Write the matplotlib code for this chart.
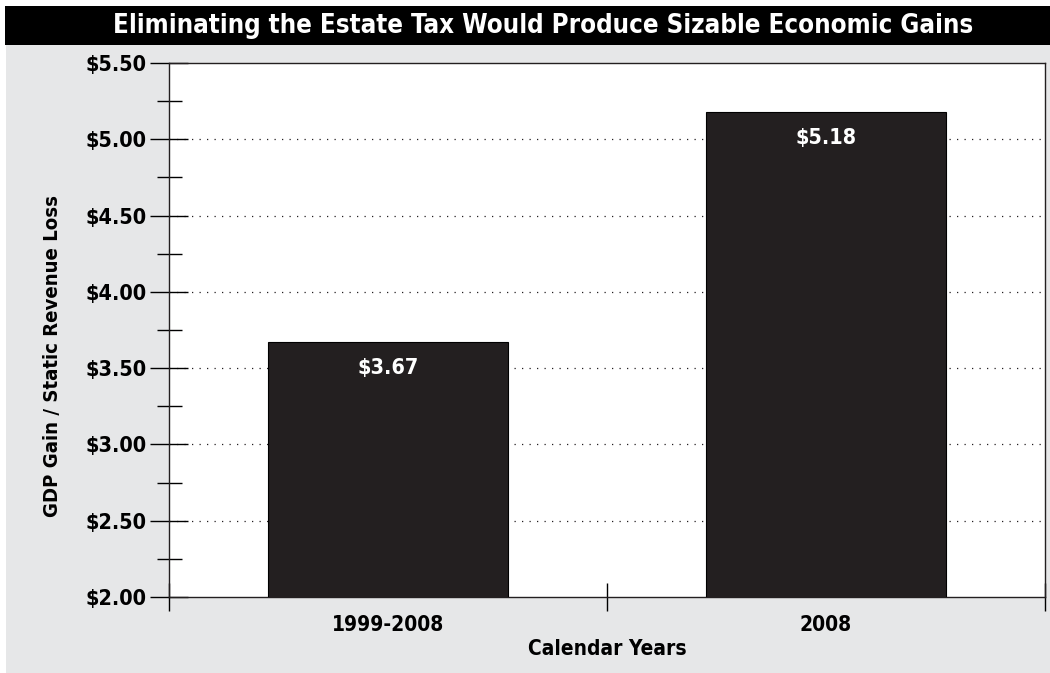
import matplotlib
matplotlib.use("Agg")
import matplotlib.pyplot as plt
from matplotlib import font_manager as fm
from matplotlib.patches import Rectangle
from matplotlib.ticker import MultipleLocator, FixedLocator, NullFormatter

periods = ["1999-2008", "2008"]
ratios = [3.67, 5.18]
value_labels = ["$3.67", "$5.18"]
y_ticks = [2.0, 2.5, 3.0, 3.5, 4.0, 4.5, 5.0, 5.5]
y_tick_labels = ["$2.00", "$2.50", "$3.00", "$3.50", "$4.00", "$4.50", "$5.00", "$5.50"]

title = "Eliminating the Estate Tax Would Produce Sizable Economic Gains"
x_label = "Calendar Years"
y_label = "GDP Gain / Static Revenue Loss"

BG = "#e6e7e8"
BAR = "#231f20"


def bold_narrow_font():
    """Pick a bold narrow/condensed face if one is installed."""
    picks = []
    for f in fm.fontManager.ttflist:
        name = (f.name + " " + f.fname).lower()
        narrow = ("narrow" in name or "condensed" in name
                  or f.stretch in ("condensed", "semi-condensed"))
        if narrow and ("bold" in name or f.weight in ("bold", 700)):
            picks.append(f)
    pref = ["liberation", "dejavu", "roboto", "open", "noto"]
    picks.sort(key=lambda f: next((i for i, p in enumerate(pref)
                                   if p in f.fname.lower()), 9))
    if picks:
        return fm.FontProperties(fname=picks[0].fname), True
    return fm.FontProperties(family="DejaVu Sans", weight="bold"), False


base_fp, is_narrow = bold_narrow_font()


def fp(size):
    p = base_fp.copy()
    p.set_size(size if is_narrow else size * 0.82)
    return p


W, H = 1050, 673
fig = plt.figure(figsize=(W / 100, H / 100), dpi=100)
fig.patch.set_facecolor("white")

# background layer: grey panel and black title band
bg = fig.add_axes([0, 0, 1, 1], zorder=-1)
bg.set_xlim(0, W)
bg.set_ylim(H, 0)
bg.axis("off")
bg.add_patch(Rectangle((6, 45), W - 6, H - 45, facecolor=BG, edgecolor="none"))
bg.add_patch(Rectangle((5, 6), W - 5, 39, facecolor="black", edgecolor="none"))
bg.text(543, 26, title, color="white", ha="center", va="center",
        fontproperties=fp(18.5))

ax = fig.add_axes([169 / W, 1 - 597 / H, (1045 - 169) / W, (597 - 63) / H],
                  zorder=1)
ax.set_facecolor("white")

x = list(range(len(periods)))
ax.bar(x, ratios, width=0.55, color=BAR, edgecolor="black", linewidth=0.8,
       zorder=3)
for xi, v, lab in zip(x, ratios, value_labels):
    ax.text(xi, v - 0.17, lab, color="white", ha="center", va="center",
            fontproperties=fp(15.5), zorder=4)

ax.set_xlim(-0.5, 1.5)
ax.set_ylim(2.0, 5.5)

# category boundaries carry the tick marks, centres carry the labels
ax.xaxis.set_major_locator(FixedLocator([-0.5, 0.5, 1.5]))
ax.xaxis.set_major_formatter(NullFormatter())
ax.set_xticks(x, periods, minor=True)
ax.tick_params(axis="x", which="major", direction="inout", length=20,
               width=1, color="black")
ax.tick_params(axis="x", which="minor", length=0, pad=13)

ax.set_yticks(y_ticks, y_tick_labels)
ax.yaxis.set_minor_locator(MultipleLocator(0.25))
ax.tick_params(axis="y", which="major", direction="inout", length=28,
               width=1, color="black", pad=2)
ax.tick_params(axis="y", which="minor", direction="inout", length=18,
               width=1, color="black")

for lbl in ax.get_yticklabels():
    lbl.set_fontproperties(fp(15.5))
for lbl in ax.get_xticklabels(minor=True):
    lbl.set_fontproperties(fp(15))

for g in y_ticks[1:-1]:
    ax.axhline(g, color="#231f20", linestyle=(0, (1, 5)), linewidth=0.9,
               zorder=1)

for s in ax.spines.values():
    s.set_color("#231f20")
    s.set_linewidth(1.0)

ax.set_xlabel(x_label, fontproperties=fp(15), labelpad=3)
ax.set_ylabel(y_label, fontproperties=fp(14.6))
ax.yaxis.set_label_coords(-0.122, 0.452)

fig.savefig("out.png", dpi=100)
